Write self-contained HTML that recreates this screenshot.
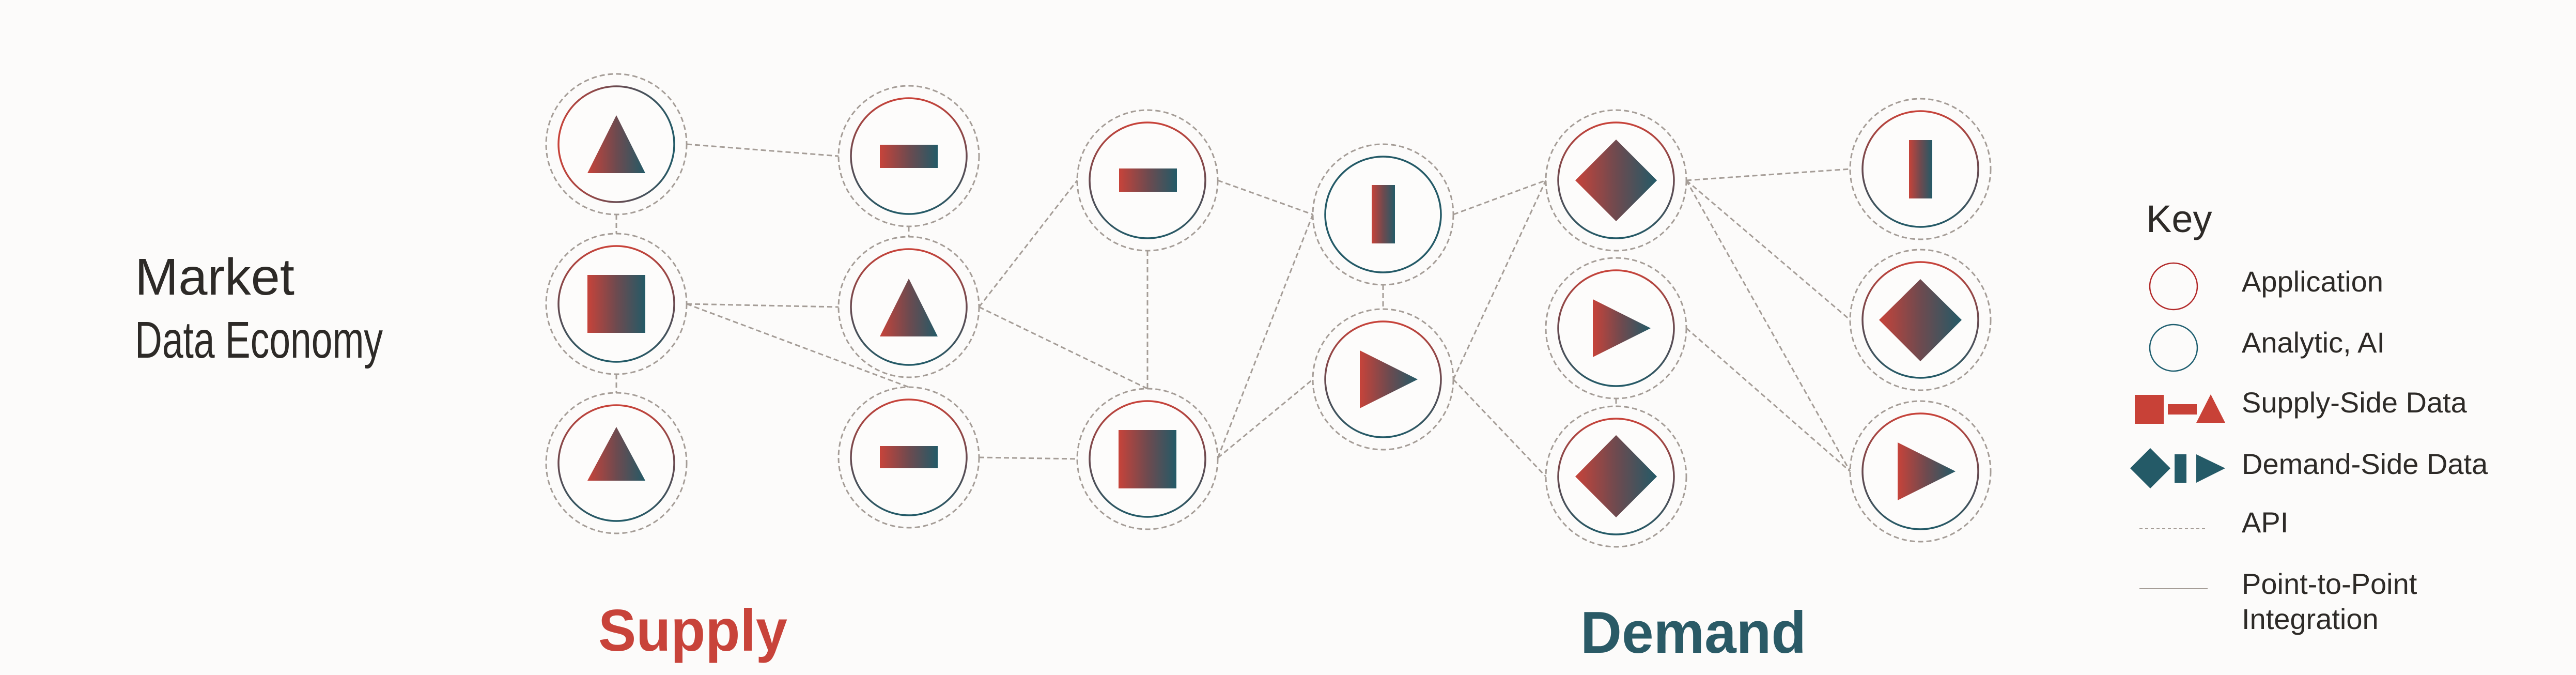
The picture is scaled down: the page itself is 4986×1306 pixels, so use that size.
<!DOCTYPE html>
<html><head><meta charset="utf-8"><style>
html,body{margin:0;padding:0;background:#fcfbfa;}
svg{display:block;}
text{font-family:"Liberation Sans",sans-serif;}
</style></head><body>
<svg width="4986" height="1306" viewBox="0 0 4986 1306" xmlns="http://www.w3.org/2000/svg">
<defs>
<linearGradient id="fh" x1="0" y1="0" x2="1" y2="0"><stop offset="0" stop-color="#c7433a"/><stop offset="0.5" stop-color="#6e4a4f"/><stop offset="1" stop-color="#235a67"/></linearGradient>
<linearGradient id="sv" x1="0" y1="0" x2="0" y2="1"><stop offset="0" stop-color="#c8433a"/><stop offset="0.5" stop-color="#6a4a50"/><stop offset="1" stop-color="#235a67"/></linearGradient>
<linearGradient id="sh" x1="0" y1="0" x2="1" y2="0"><stop offset="0" stop-color="#c8433a"/><stop offset="0.5" stop-color="#6a4a50"/><stop offset="1" stop-color="#235a67"/></linearGradient>
</defs>
<rect width="4986" height="1306" fill="#fcfbfa"/>

<g stroke="#a59d97" stroke-width="3" stroke-dasharray="10 6" fill="none">
<!-- edges -->
<line x1="1329" y1="279" x2="1623" y2="302"/>
<line x1="1193" y1="415" x2="1193" y2="452"/>
<line x1="1193" y1="724" x2="1193" y2="760"/>
<line x1="1759" y1="438" x2="1759" y2="458"/>
<line x1="1329" y1="588" x2="1623" y2="594"/>
<line x1="1329" y1="588" x2="1759" y2="749"/>
<line x1="1895" y1="594" x2="2085" y2="349"/>
<line x1="1895" y1="594" x2="2221" y2="752"/>
<line x1="1895" y1="885" x2="2085" y2="888"/>
<line x1="2221" y1="485" x2="2221" y2="752"/>
<line x1="2357" y1="349" x2="2541" y2="415"/>
<line x1="2357" y1="886" x2="2541" y2="415"/>
<line x1="2357" y1="886" x2="2541" y2="734"/>
<line x1="2677" y1="551" x2="2677" y2="598"/>
<line x1="2813" y1="415" x2="2992" y2="349"/>
<line x1="2813" y1="734" x2="2992" y2="349"/>
<line x1="2813" y1="734" x2="2992" y2="922"/>
<line x1="3128" y1="771" x2="3128" y2="786"/>
<line x1="3264" y1="349" x2="3581" y2="327"/>
<line x1="3264" y1="349" x2="3581" y2="619"/>
<line x1="3264" y1="349" x2="3581" y2="912"/>
<line x1="3264" y1="635" x2="3581" y2="912"/>
<!-- outer rings -->
<circle cx="1193" cy="279" r="136"/><circle cx="1193" cy="588" r="136"/><circle cx="1193" cy="896" r="136"/>
<circle cx="1759" cy="302" r="136"/><circle cx="1759" cy="594" r="136"/><circle cx="1759" cy="885" r="136"/>
<circle cx="2221" cy="349" r="136"/><circle cx="2221" cy="888" r="136"/>
<circle cx="2677" cy="415" r="136"/><circle cx="2677" cy="734" r="136"/>
<circle cx="3128" cy="349" r="136"/><circle cx="3128" cy="635" r="136"/><circle cx="3128" cy="922" r="136"/>
<circle cx="3717" cy="327" r="136"/><circle cx="3717" cy="619" r="136"/><circle cx="3717" cy="912" r="136"/>
</g>

<!-- inner rings -->
<g fill="#fdfcfb" stroke-width="3.5">
<circle cx="1193" cy="279" r="112" stroke="url(#sh)"/>
<circle cx="1193" cy="588" r="112" stroke="url(#sv)"/>
<circle cx="1193" cy="896" r="112" stroke="url(#sv)"/>
<circle cx="1759" cy="302" r="112" stroke="url(#sv)"/>
<circle cx="1759" cy="594" r="112" stroke="url(#sv)"/>
<circle cx="1759" cy="885" r="112" stroke="url(#sv)"/>
<circle cx="2221" cy="349" r="112" stroke="url(#sv)"/>
<circle cx="2221" cy="888" r="112" stroke="url(#sv)"/>
<circle cx="2677" cy="415" r="112" stroke="#245a67"/>
<circle cx="2677" cy="734" r="112" stroke="url(#sv)"/>
<circle cx="3128" cy="349" r="112" stroke="url(#sv)"/>
<circle cx="3128" cy="635" r="112" stroke="url(#sv)"/>
<circle cx="3128" cy="922" r="112" stroke="url(#sv)"/>
<circle cx="3717" cy="327" r="112" stroke="url(#sv)"/>
<circle cx="3717" cy="619" r="112" stroke="url(#sv)"/>
<circle cx="3717" cy="912" r="112" stroke="url(#sv)"/>
</g>

<!-- shapes -->
<g fill="url(#fh)">
<polygon points="1193,223 1249,335 1137,335"/>
<rect x="1137" y="532" width="112" height="112"/>
<polygon points="1193,826 1249,930 1137,930"/>
<rect x="1703" y="280" width="112" height="45"/>
<polygon points="1759,539 1815,651 1703,651"/>
<rect x="1703" y="863" width="112" height="43"/>
<rect x="2166" y="326" width="112" height="45"/>
<rect x="2165" y="832" width="112" height="113"/>
<rect x="2655" y="358" width="45" height="113"/>
<polygon points="2632,678 2744,734 2632,790"/>
<polygon points="3128,270 3207,349 3128,428"/>
<polygon points="3083,579 3195,635 3083,691"/>
<polygon points="3128,842 3207,922 3128,1001"/>
<rect x="3695" y="271" width="45" height="113"/>
<polygon points="3717,540 3797,619 3717,699 3637,619"/>
<polygon points="3673,856 3785,912 3673,968"/>
</g>
<g fill="url(#fh)">
<polygon points="3128,270 3207,349 3128,428 3049,349"/>
<polygon points="3128,842 3207,922 3128,1001 3049,922"/>
</g>

<!-- titles -->
<text x="261" y="570" font-size="100" fill="#2d2a27" textLength="309" lengthAdjust="spacingAndGlyphs">Market</text>
<text x="261" y="692" font-size="100" fill="#2d2a27" textLength="480" lengthAdjust="spacingAndGlyphs">Data Economy</text>
<text x="1158" y="1259" font-size="114" font-weight="bold" fill="#c8433a" textLength="366" lengthAdjust="spacingAndGlyphs">Supply</text>
<text x="3059" y="1263" font-size="114" font-weight="bold" fill="#2a5a66" textLength="437" lengthAdjust="spacingAndGlyphs">Demand</text>

<!-- key -->
<text x="4154" y="449" font-size="74" fill="#2d2a27">Key</text>
<ellipse cx="4207" cy="554" rx="46" ry="45" fill="none" stroke="#b22a2a" stroke-width="2.5"/>
<ellipse cx="4207" cy="673" rx="46" ry="45" fill="none" stroke="#1f5f70" stroke-width="2.5"/>
<rect x="4132" y="764" width="56" height="56" fill="#c84137"/>
<rect x="4196" y="782" width="56" height="20" fill="#c84137"/>
<polygon points="4279,763 4307,818 4251,818" fill="#c84137"/>
<polygon points="4162,867 4201,906 4162,945 4123,906" fill="#245a67"/>
<rect x="4209" y="879" width="23" height="55" fill="#245a67"/>
<polygon points="4251,879 4307,906 4251,934" fill="#245a67"/>
<line x1="4141" y1="1023" x2="4273" y2="1023" stroke="#a59d97" stroke-width="2" stroke-dasharray="6 5"/>
<line x1="4141" y1="1139" x2="4273" y2="1139" stroke="#a59d97" stroke-width="2"/>
<g font-size="56" fill="#2d2a27">
<text x="4339" y="564">Application</text>
<text x="4339" y="682">Analytic, AI</text>
<text x="4339" y="798">Supply-Side Data</text>
<text x="4339" y="917">Demand-Side Data</text>
<text x="4339" y="1030">API</text>
<text x="4339" y="1149">Point-to-Point</text>
<text x="4339" y="1217">Integration</text>
</g>
</svg>
</body></html>
